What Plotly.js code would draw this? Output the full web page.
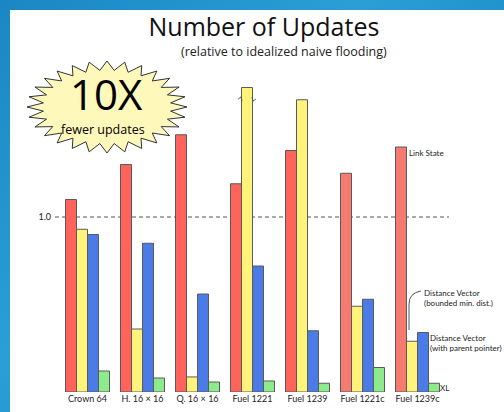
<!DOCTYPE html>
<html><head><meta charset="utf-8">
<script src="https://cdn.plot.ly/plotly-3.0.1.min.js"></script>
<style>
html,body{margin:0;padding:0;}
body{width:504px;height:412px;overflow:hidden;background:linear-gradient(135deg,#1b86c4 0%,#2a9fd6 40%,#1888c6 70%,#239ad2 100%);position:relative;}
#chart{position:absolute;left:10px;top:10px;width:494px;height:402px;}
</style></head>
<body><div id="chart"></div>
<script>
const categories = ["Crown 64","H. 16 × 16","Q. 16 × 16","Fuel 1221","Fuel 1239","Fuel 1221c","Fuel 1239c"];
const linkState   = [1.10, 1.30, 1.47, 1.19, 1.38, 1.25, 1.40];
const dvBounded   = [0.93, 0.36, 0.086, 1.74, 1.67, 0.49, 0.29];
const dvParent    = [0.90, 0.85, 0.56, 0.72, 0.35, 0.53, 0.34];
const xl          = [0.12, 0.08, 0.057, 0.063, 0.05, 0.14, 0.05];
const brokenIndex = 3;        // Fuel 1221 bar is truncated
const breakValue  = 1.674;
const refTick = [1.0], refTickText = ["1.0"];

const W = 494, H = 402, M = {l:50, r:59, t:67, b:20};
const PW = W - M.l - M.r, PH = H - M.t - M.b;
const px = x => (x - M.l) / PW;
const py = y => (H - M.b - y) / PH;

const redColors = categories.map((c,i)=> i >= 5 ? "#f57a6f" : "#ff635b");
const line = {color:"#5a5a5a", width:1};
const traces = [
  {name:"Link State", y:linkState, marker:{color:redColors, line}},
  {name:"Distance Vector (bounded min. dist.)", y:dvBounded, marker:{color:"#fff37c", line}},
  {name:"Distance Vector (with parent pointer)", y:dvParent, marker:{color:"#4a7be6", line}},
  {name:"XL", y:xl, marker:{color:"#8eeb8c", line}}
].map(t => Object.assign({type:"bar", x:categories, hoverinfo:"y"}, t));

function star(cx, cy, rx, ry, n, inner){
  let d = "";
  for (let k = 0; k < 2*n; k++){
    const a = Math.PI * k / n - Math.PI/2;
    const f = (k % 2 === 0) ? 1 : inner;
    const x = cx + rx*f*Math.cos(a), y = cy + ry*f*Math.sin(a);
    d += (k === 0 ? "M" : "L") + px(x).toFixed(4) + "," + py(y).toFixed(4);
  }
  return d + "Z";
}

const bw = 0.8/4, bx0 = brokenIndex - 0.4 + bw, bx1 = bx0 + bw;
const brk = v => `M${bx0-0.06},${v} L${bx0-0.01},${v+0.012} L${bx0+0.01},${v-0.012} ` +
                 `M${bx1-0.01},${v+0.012} L${bx1+0.01},${v-0.012} L${bx1+0.06},${v}`;

const shapes = [
  {type:"line", xref:"paper", yref:"y", x0:px(45), x1:px(439), y0:refTick[0], y1:refTick[0],
   line:{color:"#555", width:1, dash:"4px,3px"}, layer:"below"},
  {type:"path", xref:"paper", yref:"paper", path:star(97, 97, 80, 46, 28, 0.80),
   fillcolor:"#fff8bb", line:{color:"#333", width:1}},
  {type:"path", xref:"x", yref:"y", path:brk(breakValue), line:{color:"#555", width:1}},
  {type:"path", xref:"paper", yref:"paper",
   path:`M${px(411)},${py(281)} Q${px(399)},${py(283)} ${px(399)},${py(294)} L${px(399)},${py(320)}`,
   line:{color:"#555", width:1}}
];

const sf = "Lato, 'Open Sans', sans-serif";
const af = {family:sf, size:8, color:"#222"};
const annotations = [
  {x:px(96), y:py(83), text:"10X", font:{family:"Open Sans, sans-serif", size:42, color:"#000"}},
  {x:px(93), y:py(119), text:"fewer updates", font:{family:"Open Sans, sans-serif", size:12.5, color:"#000"}},
  {x:px(274), y:py(41), text:"(relative to idealized naive flooding)", font:{family:"Open Sans, sans-serif", size:12.5, color:"#222"}},
  {x:px(397), y:py(143), text:"Link State", xanchor:"left", font:af},
  {x:px(412), y:py(288), text:"Distance Vector<br>(bounded min. dist.)", xanchor:"left", align:"left", font:af},
  {x:px(418), y:py(333), text:"Distance Vector<br>(with parent pointer)", xanchor:"left", align:"left", font:af},
  {x:px(428), y:py(378), text:"XL", xanchor:"left", font:af}
].map(a => Object.assign({xref:"paper", yref:"paper", showarrow:false, yanchor:"middle", xanchor:"center"}, a));

const layout = {
  width:W, height:H, margin:M,
  paper_bgcolor:"#ffffff", plot_bgcolor:"rgba(0,0,0,0)",
  title:{text:"Number of Updates", font:{family:"Open Sans, sans-serif", size:25, color:"#111"},
         x:0.514, xanchor:"center", y:0.979, yanchor:"top", yref:"container"},
  barmode:"group", bargap:0.2, bargroupgap:0, showlegend:false,
  xaxis:{showgrid:false, zeroline:false, showline:false, ticks:"",
         tickfont:{family:sf, size:9, color:"#222"}},
  yaxis:{range:[0,1.8], showgrid:false, zeroline:false, showline:false, ticks:"",
         tickvals:refTick, ticktext:refTickText, ticklabelstandoff:8,
         tickfont:{family:sf, size:9, color:"#222"}},
  shapes, annotations
};
Plotly.newPlot("chart", traces, layout, {displayModeBar:false, staticPlot:true});
</script></body></html>
